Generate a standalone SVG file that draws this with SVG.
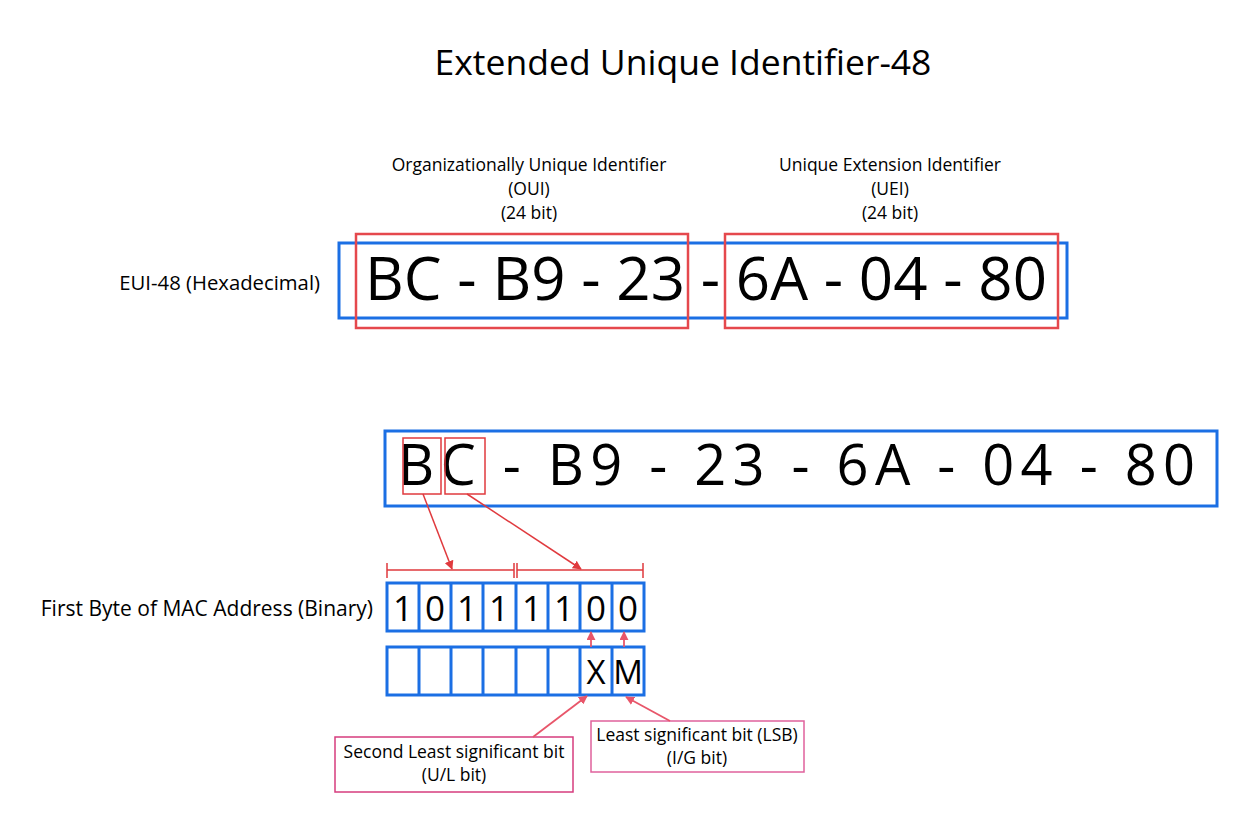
<svg xmlns="http://www.w3.org/2000/svg" width="1253" height="830" viewBox="0 0 1253 830">
<defs>
<style>
text{font-family:"Open Sans","Noto Sans","DejaVu Sans",sans-serif;fill:#000}
.blue{fill:#fff;stroke:#1b6fe4;stroke-width:3}
.cell{fill:none;stroke:#1b6fe4;stroke-width:3}
.red{fill:none;stroke:#e5484d;stroke-width:2.5}
.redthin{fill:none;stroke:#e03a3e;stroke-width:1.5}
.lbl{font-size:17.5px;text-anchor:middle}
.side{text-anchor:end}
.conn{stroke:#e03a3e;stroke-width:1.5;fill:none}
.pconn{stroke:#e8566a;stroke-width:1.8;fill:none}
</style>
<marker id="ah" viewBox="0 0 10 10" refX="9" refY="5" markerWidth="9" markerHeight="9" markerUnits="userSpaceOnUse" orient="auto"><path d="M0,0 L10,5 L0,10 z" fill="#e03a3e"/></marker>
<marker id="ahp" viewBox="0 0 10 10" refX="9" refY="5" markerWidth="9" markerHeight="9" markerUnits="userSpaceOnUse" orient="auto"><path d="M0,0 L10,5 L0,10 z" fill="#e8566a"/></marker>
</defs>
<rect width="1253" height="830" fill="#fff"/>
<text id="title" x="683" y="75" font-size="35.5" text-anchor="middle">Extended Unique Identifier-48</text>

<g id="oui-label">
<text class="lbl" x="529" y="171">Organizationally Unique Identifier</text>
<text class="lbl" x="529" y="195">(OUI)</text>
<text class="lbl" x="529" y="219">(24 bit)</text>
</g>
<g id="uei-label">
<text class="lbl" x="890" y="171">Unique Extension Identifier</text>
<text class="lbl" x="890" y="195">(UEI)</text>
<text class="lbl" x="890" y="219">(24 bit)</text>
</g>

<g id="eui48">
<text class="side" x="320" y="290" font-size="20.3">EUI-48 (Hexadecimal)</text>
<rect class="blue" x="339" y="243" width="728" height="75"/>
<text x="365" y="300" font-size="60" textLength="682" lengthAdjust="spacing">BC - B9 - 23 - 6A - 04 - 80</text>
</g>
<rect id="oui-box" class="red" x="356" y="234" width="332" height="94"/>
<rect id="uei-box" class="red" x="725" y="234" width="333" height="94"/>

<g id="eui48-2">
<rect class="blue" x="385" y="431" width="832" height="75"/>
<text x="398" y="485" font-size="56" textLength="797" lengthAdjust="spacing">BC - B9 - 23 - 6A - 04 - 80</text>
<rect class="redthin" x="403" y="438" width="38" height="56"/>
<rect class="redthin" x="445" y="438" width="40" height="56"/>
</g>

<g id="brackets">
<path class="conn" d="M387,570 H514 M387,563 V578 M514,563 V578"/>
<path class="conn" d="M517,570 H643 M517,563 V578 M643,563 V578"/>
</g>

<g id="binary">
<text class="side" x="373" y="616" font-size="21">First Byte of MAC Address (Binary)</text>
<rect class="cell" x="387" y="583" width="257" height="48"/>
<path class="cell" d="M419,583 V631 M451,583 V631 M483,583 V631 M516,583 V631 M548,583 V631 M580,583 V631 M612,583 V631"/>
<g font-size="35" text-anchor="middle">
<text x="403" y="621">1</text><text x="435" y="621">0</text><text x="467" y="621">1</text><text x="499" y="621">1</text>
<text x="532" y="621">1</text><text x="564" y="621">1</text><text x="596" y="621">0</text><text x="628" y="621">0</text>
</g>
</g>

<g id="flags">
<rect class="cell" x="387" y="647" width="257" height="48"/>
<path class="cell" d="M419,647 V695 M451,647 V695 M483,647 V695 M516,647 V695 M548,647 V695 M580,647 V695 M612,647 V695"/>
<g font-size="33" text-anchor="middle">
<text x="596" y="684">X</text><text x="628" y="684">M</text>
</g>
</g>

<g id="ul-label">
<rect x="335" y="737" width="238" height="55" fill="none" stroke="#d63c7e" stroke-width="1.5"/>
<text class="lbl" x="454" y="758">Second Least significant bit</text>
<text class="lbl" x="454" y="781">(U/L bit)</text>
</g>
<g id="lsb-label">
<rect x="591" y="721" width="213" height="51" fill="none" stroke="#e0619c" stroke-width="1.5"/>
<text class="lbl" x="697" y="741">Least significant bit (LSB)</text>
<text class="lbl" x="697" y="764">(I/G bit)</text>
</g>

<g id="connectors">
<line class="conn" x1="423" y1="494" x2="452" y2="569" marker-end="url(#ah)"/>
<line class="conn" x1="467" y1="494" x2="581" y2="569" marker-end="url(#ah)"/>
<line class="pconn" x1="591" y1="647" x2="591" y2="632" marker-end="url(#ahp)"/>
<line class="pconn" x1="624" y1="647" x2="624" y2="632" marker-end="url(#ahp)"/>
<line class="pconn" x1="533" y1="737" x2="587" y2="696" marker-end="url(#ahp)"/>
<line class="pconn" x1="670" y1="721" x2="626" y2="697" marker-end="url(#ahp)"/>
</g>
</svg>
